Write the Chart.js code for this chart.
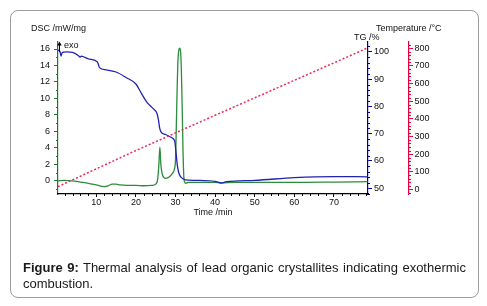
<!DOCTYPE html>
<html>
<head>
<meta charset="utf-8">
<script src="https://cdn.jsdelivr.net/npm/chart.js@4.4.1/dist/chart.umd.min.js"></script>
<style>
  html, body { margin: 0; padding: 0; background: #fff; }
  body { width: 487px; height: 306px; position: relative; overflow: hidden; }
  #frame { position: absolute; left: 10px; top: 10px; width: 469px; height: 288px; box-sizing: border-box;
           border: 1.5px solid #9c9c9c; border-radius: 8px; }
  #cv { position: absolute; left: 0; top: 0; }
  #caption { position: absolute; left: 23px; top: 260px; width: 443px; color: #1a1a1a;
             font: 13px "Liberation Sans", Arial, sans-serif; line-height: 15.6px; text-align: justify; }
</style>
</head>
<body>
<div id="frame"></div>
<canvas id="cv" width="487" height="306"></canvas>
<div id="caption"><b>Figure 9:</b> Thermal analysis of lead organic crystallites indicating exothermic combustion.</div>
<script>
// tick labels
var timeTicks = [10, 20, 30, 40, 50, 60, 70];
var dscTicks = [0, 2, 4, 6, 8, 10, 12, 14, 16];
var tgTicks = [50, 60, 70, 80, 90, 100];
var tempTicks = [0, 100, 200, 300, 400, 500, 600, 700, 800];

// DSC /mW/mg (green)
var dscTime = [0.3, 2, 4, 6, 8, 10, 12, 13, 14, 15, 16, 18, 20, 22, 24, 25, 25.5, 25.8, 26.05, 26.3, 26.6,
               27, 27.5, 28, 28.6, 29.2, 29.7, 30.0, 30.2, 30.4, 30.6, 30.85, 31.05, 31.3, 31.5, 31.7, 31.9,
               32.1, 32.3, 32.6, 33.2, 40, 41.5, 45, 60, 70, 78.5];
var dscValues = [0.0, 0.05, 0.0, -0.15, -0.3, -0.5, -0.7, -0.6, -0.4, -0.4, -0.5, -0.55, -0.55, -0.6, -0.55, -0.4, 0.2, 2.0, 4.1, 2.0, 0.9,
                 0.45, 0.3, 0.35, 0.55, 0.9, 1.4, 2.6, 6.5, 11, 14.5, 15.9, 16.1, 15.6, 13, 8.5, 3.5,
                 0.5, -0.15, -0.3, -0.2, -0.2, -0.25, -0.2, -0.2, -0.15, -0.1];

// TG /% (blue)
var tgTime = [0.3, 0.8, 1.1, 1.4, 2.5, 4, 5.5, 5.9, 6.2, 8, 10.2, 10.5, 10.8, 12.5, 15, 17.5, 20, 21.5, 22.8,
              24.5, 25.3, 25.7, 26.0, 26.4, 27.5, 29, 29.8, 30.1, 30.5, 30.9, 31.5, 32.5, 35, 40, 41.6, 42.8,
              50, 60, 70, 78.5];
var tgValues = [100.6, 100.2, 98.4, 99.8, 100.0, 99.8, 98.6, 98.0, 98.4, 97.4, 96.4, 95.5, 94.2, 93.4, 92.6, 90.6, 88.2, 84.5, 81.5,
                79.0, 77.5, 75.0, 72.0, 70.5, 69.7, 68.6, 67.3, 63.5, 58.0, 55.3, 53.9, 53.1, 52.9, 52.5, 51.9, 52.4,
                52.9, 53.9, 54.3, 54.2];

// Temperature /°C (red dotted)
var tempTime = [0.3, 20, 40, 60, 78.3];
var tempValues = [15, 220, 420, 618, 800];

function pairs(xs, ys) {
  return xs.map(function (x, i) { return { x: x, y: ys[i] }; });
}
function fixedTicks(list) {
  return function (s) { s.ticks = list.map(function (v) { return { value: v }; }); };
}

Chart.defaults.font.family = '"Liberation Sans", Arial, sans-serif';
Chart.defaults.font.size = 9;
Chart.defaults.color = '#111';

var green = '#2a8c3c', blue = '#2323b0', red = '#f0285a';

var decor = {
  id: 'decor',
  afterDraw: function (chart) {
    var c = chart.ctx, a = chart.chartArea, s = chart.scales;
    c.save();
    function minor(scale, step, skip, len, color) {
      c.strokeStyle = color;
      c.lineWidth = 1;
      c.beginPath();
      var v = Math.ceil(scale.min / step) * step;
      for (; v <= scale.max; v += step) {
        if (Math.abs(v % skip) < 1e-6) continue;
        var p = Math.round(scale.getPixelForValue(v)) + 0.5;
        if (scale.isHorizontal()) { c.moveTo(p, scale.top); c.lineTo(p, scale.top + len); }
        else if (scale.position === 'left') { c.moveTo(scale.right, p); c.lineTo(scale.right - len, p); }
        else { c.moveTo(scale.left, p); c.lineTo(scale.left + len, p); }
      }
      c.stroke();
    }
    minor(s.x, 2, 10, 2, '#000');
    minor(s.yDSC, 1, 2, 2, '#1b7a2c');
    minor(s.yTG, 2, 10, 2, '#0000aa');
    minor(s.yT, 20, 100, 2, '#e8003c');

    // axis titles
    c.fillStyle = '#111';
    c.font = '9px "Liberation Sans", Arial, sans-serif';
    c.textBaseline = 'middle';
    c.textAlign = 'left';
    c.fillText('DSC /mW/mg', a.left - 27, a.top - 13);
    c.fillText('TG /%', a.right - 14, a.top - 4);
    c.fillText('Temperature /°C', s.yT.left - 33, a.top - 13);
    c.fillText('exo', a.left + 6, a.top + 3.5);

    // exo arrow
    c.strokeStyle = '#000';
    c.lineWidth = 1;
    c.beginPath();
    c.moveTo(a.left + 1.5, a.top + 10);
    c.lineTo(a.left + 1.5, a.top + 2);
    c.stroke();
    c.fillStyle = '#000';
    c.beginPath();
    c.moveTo(a.left + 1.5, a.top - 0.5);
    c.lineTo(a.left - 0.7, a.top + 3.5);
    c.lineTo(a.left + 3.7, a.top + 3.5);
    c.closePath();
    c.fill();
    c.restore();
  }
};

var ctx = document.getElementById('cv').getContext('2d');
var chart = new Chart(ctx, {
  type: 'line',
  data: {
    datasets: [
      {
        label: 'Temperature /°C',
        data: pairs(tempTime, tempValues),
        yAxisID: 'yT',
        borderColor: red,
        borderWidth: 1.5,
        borderDash: [2, 2],
        pointRadius: 0,
        order: 0
      },
      {
        label: 'TG /%',
        data: pairs(tgTime, tgValues),
        yAxisID: 'yTG',
        borderColor: blue,
        borderWidth: 1.3,
        pointRadius: 0,
        cubicInterpolationMode: 'monotone',
        order: 1
      },
      {
        label: 'DSC /mW/mg',
        data: pairs(dscTime, dscValues),
        yAxisID: 'yDSC',
        borderColor: green,
        borderWidth: 1.3,
        pointRadius: 0,
        cubicInterpolationMode: 'monotone',
        order: 2
      }
    ]
  },
  options: {
    responsive: false,
    animation: false,
    layout: { padding: { left: 28, top: 42, right: 38, bottom: 86 } },
    plugins: { legend: { display: false }, tooltip: { enabled: false } },
    scales: {
      yDSC: {
        type: 'linear',
        position: 'left',
        min: -1.6,
        max: 16.85,
        afterBuildTicks: fixedTicks(dscTicks),
        afterFit: function (s) { s.width = 30; },
        grid: { drawOnChartArea: false, tickLength: 4, color: '#1b7a2c' },
        border: { color: '#1b7a2c', width: 1.2 },
        ticks: { padding: 4, autoSkip: false }
      },
      yTG: {
        type: 'linear',
        position: 'right',
        min: 47.9,
        max: 103.6,
        afterBuildTicks: fixedTicks(tgTicks),
        afterFit: function (s) { s.width = 41; },
        grid: { drawOnChartArea: false, tickLength: 4, color: '#0000aa' },
        border: { color: '#0000aa', width: 1.2 },
        ticks: { padding: 2, autoSkip: false }
      },
      yT: {
        type: 'linear',
        position: 'right',
        min: -26.7,
        max: 835.7,
        afterBuildTicks: fixedTicks(tempTicks),
        afterFit: function (s) { s.width = 40; },
        grid: { drawOnChartArea: false, tickLength: 4, color: '#e8003c' },
        border: { color: '#e8003c', width: 1.2 },
        ticks: { padding: 1.5, autoSkip: false }
      },
      x: {
        type: 'linear',
        position: 'bottom',
        min: 0.33,
        max: 78.6,
        afterBuildTicks: fixedTicks(timeTicks),
        afterFit: function (s) { s.height = 26; },
        grid: { drawOnChartArea: false, tickLength: 3, color: '#000' },
        border: { color: '#000', width: 1.2 },
        ticks: { padding: 0, maxRotation: 0, autoSkip: false },
        title: { display: true, text: 'Time /min', padding: { top: 0, bottom: 1.6 } }
      }
    }
  },
  plugins: [decor]
});
</script>
</body>
</html>
